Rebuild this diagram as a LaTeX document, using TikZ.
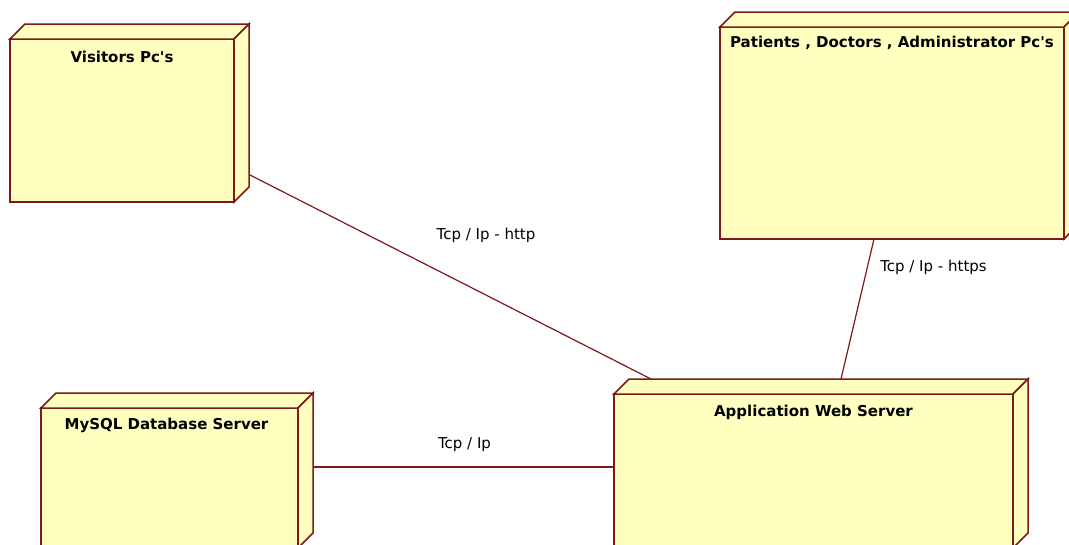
\documentclass[tikz,border=0pt]{standalone}
\usepackage{fontspec}
\newfontfamily\dvsans{DejaVu Sans}
\usetikzlibrary{calc}
\definecolor{nodefill}{RGB}{255,255,192}
\definecolor{edge}{RGB}{128,24,24}
\tikzset{
  box/.style={draw=edge, fill=nodefill, line width=1.5pt, inner sep=0pt, outer sep=0pt, rectangle},
  face/.style={draw=edge, fill=nodefill, line width=1.5pt, line join=miter},
  title/.style={font=\dvsans\bfseries\fontsize{15}{18}\selectfont, inner sep=0pt, anchor=center},
  lbl/.style={font=\dvsans\fontsize{15}{18}\selectfont, inner sep=0pt, anchor=center},
  conn/.style={draw=edge, line width=1.2pt}
}
\newcommand\extrude[1]{%
  \draw[face] (#1.north west) -- ++(15,-15) -- ($(#1.north east)+(15,-15)$) -- (#1.north east) -- cycle;
  \draw[face] (#1.north east) -- ++(15,-15) -- ($(#1.south east)+(15,-15)$) -- (#1.south east) -- cycle;}
\begin{document}
\begin{tikzpicture}[x=1pt,y=-1pt]
\useasboundingbox (0,0) rectangle (1069,544);
\fill[white] (0,0) rectangle (1069,544);
\begin{scope}
\clip (0,0) rectangle (1069,544);
% nodes
\node[box, minimum width=224pt, minimum height=163pt] (V) at (122,120.5) {};
\extrude{V}
\node[box, minimum width=344pt, minimum height=212pt] (P) at (892,133) {};
\extrude{P}
\node[box, minimum width=399pt, minimum height=154pt] (A) at (813.5,471) {};
\extrude{A}
\node[box, minimum width=257pt, minimum height=140pt] (M) at (169.5,478) {};
\extrude{M}
% titles
\node[title] (Vt) at ($(V.north)+(0,18)$) {Visitors Pc's};
\node[title] (Pt) at ($(P.north)+(0,16)$) {Patients , Doctors , Administrator Pc's};
\node[title] (At) at ($(A.north)+(0,18)$) {Application Web Server};
\node[title] (Mt) at ($(M.north)+(-3,17)$) {MySQL Database Server};
% connector ends
\coordinate (v1) at ($(V.south east)+(16,-27)$);
\coordinate (a1) at ($(A.north)+(-162.5,-15)$);
\coordinate (p1) at ($(P.south)+(-18,0)$);
\coordinate (a2) at ($(A.north)+(27.5,-15)$);
\coordinate (m1) at ($(M.east)+(15,-11)$);
\coordinate (a3) at (A.west |- m1);
\draw[conn] (v1) -- (a1);
\draw[conn] (p1) -- (a2);
\draw[conn] (m1) -- (a3);
% labels
\node[lbl] (l1) at (486,235) {Tcp / Ip - http};
\node[lbl] (l2) at (933.5,267) {Tcp / Ip - https};
\node[lbl] (l3) at (464.5,445) {Tcp / Ip};
\end{scope}
\end{tikzpicture}
\end{document}
